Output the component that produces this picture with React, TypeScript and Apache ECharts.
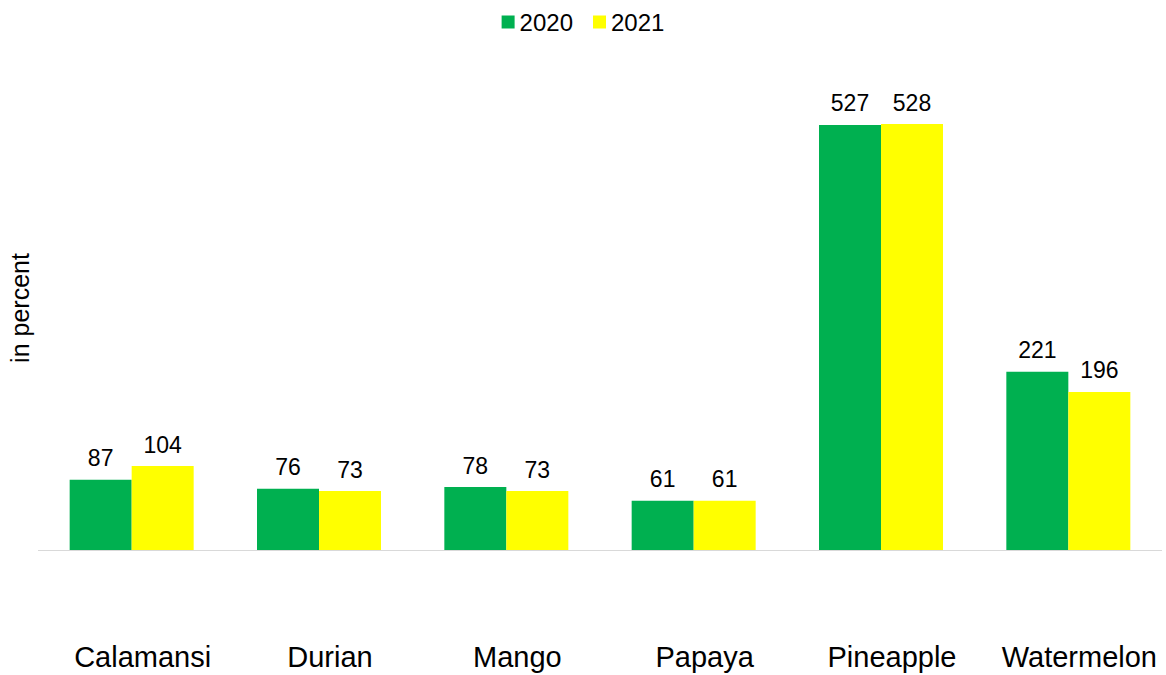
import React, { useEffect, useRef } from "react";
import * as echarts from "echarts";

const categories = ["Calamansi", "Durian", "Mango", "Papaya", "Pineapple", "Watermelon"];
const values2020 = [87, 76, 78, 61, 527, 221];
const values2021 = [104, 73, 73, 61, 528, 196];

const W = 1166;
const H = 675;
const GRID_LEFT = 38;
const GRID_RIGHT = 4;
const GRID_TOP = 66;
const GRID_BOTTOM = 125;

export default function App() {
  const ref = useRef<HTMLDivElement>(null);
  useEffect(() => {
    if (!ref.current) return;
    const chart = echarts.init(ref.current, null, { renderer: "svg" });
    const font = "Liberation Sans, Arial, sans-serif";
    const label = {
      show: true,
      position: "top",
      distance: 10,
      color: "#000",
      fontSize: 23,
      fontFamily: font,
    };
    const baseY = H - GRID_BOTTOM + 0.5;
    chart.setOption({
      animation: false,
      textStyle: { fontFamily: font },
      legend: {
        top: 5,
        left: "center",
        itemWidth: 13,
        itemHeight: 13,
        itemGap: 20,
        icon: "rect",
        textStyle: { fontSize: 24, color: "#000", fontFamily: font },
        data: ["2020", "2021"],
      },
      grid: {
        left: GRID_LEFT,
        right: GRID_RIGHT,
        top: GRID_TOP,
        bottom: GRID_BOTTOM,
        containLabel: false,
        outerBoundsMode: "none",
      },
      graphic: [
        {
          type: "line",
          silent: true,
          z: 0,
          shape: { x1: GRID_LEFT, y1: baseY, x2: W - GRID_RIGHT, y2: baseY },
          style: { stroke: "#D9D9D9", lineWidth: 1 },
        },
      ],
      xAxis: {
        type: "category",
        data: categories,
        axisLine: { show: false },
        axisTick: { show: false },
        axisLabel: {
          color: "#000",
          fontSize: 29,
          margin: 92,
          fontFamily: font,
          interval: 0,
          padding: [0, 0, 0, 22],
        },
      },
      yAxis: {
        type: "value",
        min: 0,
        max: 600,
        interval: 600,
        name: "in percent",
        nameLocation: "middle",
        nameRotate: 90,
        nameGap: 6,
        nameTextStyle: { color: "#000", fontSize: 25, fontFamily: font },
        axisLine: { show: false },
        axisTick: { show: false },
        axisLabel: { show: false },
        splitLine: { show: false },
      },
      series: [
        {
          name: "2020",
          type: "bar",
          data: values2020,
          barWidth: 62,
          barGap: "0%",
          itemStyle: { color: "#00B050" },
          label,
        },
        {
          name: "2021",
          type: "bar",
          data: values2021,
          barWidth: 62,
          barGap: "0%",
          itemStyle: { color: "#FFFF00" },
          label,
        },
      ],
    });
    return () => chart.dispose();
  }, []);
  return (
    <div
      ref={ref}
      style={{ position: "absolute", left: 0, top: 0, width: W, height: H }}
    />
  );
}
